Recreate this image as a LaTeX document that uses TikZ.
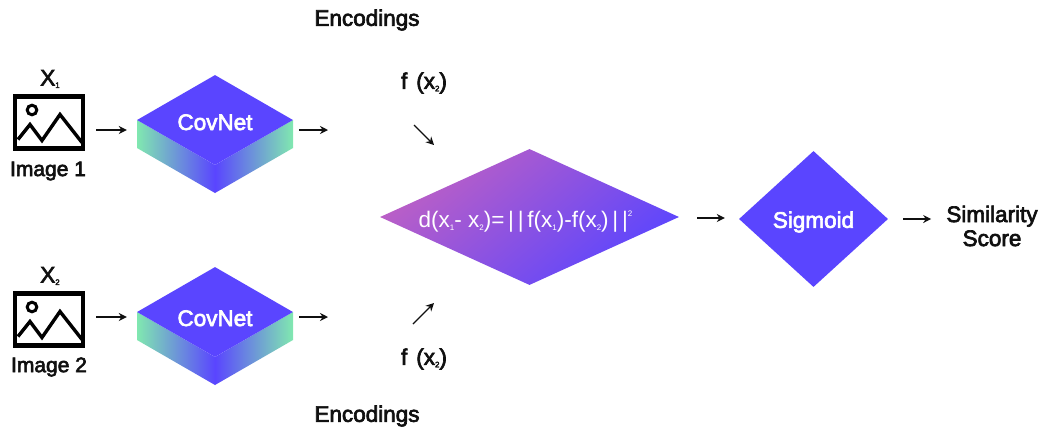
\documentclass[tikz,border=0pt]{standalone}
\usepackage{fontspec}
\setmainfont{Liberation Sans}
\newfontfamily\medfont[FakeBold=3]{Liberation Sans}
\usetikzlibrary{arrows.meta,positioning,shapes.geometric}
\definecolor{netblue}{HTML}{5A45FF}
\definecolor{netgreen}{HTML}{80E8B0}
\definecolor{distpink}{HTML}{BE60C4}
\definecolor{inkblack}{HTML}{101010}
\newcommand{\lowidx}[1]{\raisebox{-2.5pt}{\fontsize{8}{8}\selectfont #1}}
\newcommand{\highidx}[1]{\raisebox{11pt}{\fontsize{8}{8}\selectfont #1}}
\tikzset{
  flow/.style={draw=inkblack,line width=1.3pt,-{Stealth[length=8pt,width=8pt]}},
  lbl/.style={font=\medfont\fontsize{22.5}{24}\selectfont,text=inkblack,inner sep=0pt,align=center},
  lblsmall/.style={font=\medfont\fontsize{21}{24}\selectfont,text=inkblack,inner sep=0pt},
  onblue/.style={font=\medfont\fontsize{22.5}{24}\selectfont,text=white,inner sep=0pt},
  topface/.style={diamond,fill=netblue,shape aspect=1.733,minimum width=156pt,minimum height=90pt,inner sep=0pt},
  imgframe/.style={draw=black,line width=4.4pt,minimum width=68pt,minimum height=52pt,inner sep=0pt},
}
\begin{document}
\begin{tikzpicture}[x=1pt,y=-1pt]
\useasboundingbox (0,0) rectangle (1044,429);
\fill[white] (0,0) rectangle (1044,429);
\newcommand{\covblock}[3]{
  \shade[left color=netgreen,right color=netblue] (137,#1) -- (215,#1+45) -- (215,#1+73) -- (137,#1+28) -- cycle;
  \shade[left color=netblue,right color=netgreen] (293,#1) -- (215,#1+45) -- (215,#1+73) -- (293,#1+28) -- cycle;
  \node[topface,onblue] (#2) at (215,#1) {\raisebox{#3}[0pt][0pt]{CovNet}};
}
\newcommand{\imgicon}[2]{
  \node[imgframe] (#2) at (49,#1) {};
  \draw[black,line width=3pt] (32,#1-12.5) circle (4.8);
  \draw[black,line width=3.4pt,line join=miter] (18,#1+17) -- (30,#1+2) -- (42,#1+18) -- (60,#1-8) -- (82,#1+20);
}
\covblock{120}{covnet1}{-10pt}
\covblock{312}{covnet2}{-14pt}
\imgicon{122.5}{image1}
\imgicon{319.5}{image2}
\node[lbl] (x1) at (50,79) {X\lowidx{1}};
\node[lbl] (x2) at (50,276) {X\lowidx{2}};
\node[lblsmall] (name1) at (48,171) {Image 1};
\node[lblsmall] (name2) at (49,367) {Image 2};
\node[lbl] (enc1) at (367,20) {Encodings};
\node[lbl] (enc2) at (367,416) {Encodings};
\node[lbl] (fx1) at (424,83) {f\hspace{9pt}(x\lowidx{2})};
\node[lbl] (fx2) at (424,359) {f\hspace{9pt}(x\lowidx{2})};
\node[diamond,shape aspect=2.2,minimum width=299pt,minimum height=136pt,inner sep=0pt,shade,shading=axis,left color=distpink,right color=netblue,shading angle=40] (dist) at (529.5,217) {};
\node[font=\fontsize{22.5}{24}\selectfont,text=white,inner sep=0pt] (formula) at (525.5,222) {d(x\lowidx{1}- x\lowidx{2})=\,|\,|\,f(x\lowidx{1})-f(x\lowidx{2})\,|\,|\highidx{2}};
\node[diamond,fill=netblue,minimum width=149pt,minimum height=136pt,shape aspect=1.1,inner sep=0pt] (sigmoid) at (813.5,219) {};
\node[onblue] (sigtext) at (813.5,222) {Sigmoid};
\node[lbl] (score) at (992,226) {Similarity\\Score};
\coordinate (out1) at (328,130);
\coordinate (out2) at (328,317);
\coordinate (fromenc1) at (414,125);
\coordinate (toenc1) at (434,145);
\coordinate (fromenc2) at (413,324);
\coordinate (toenc2) at (434,303);
\draw[flow,shorten <=11pt,shorten >=10pt] ([yshift=-7.5pt]image1.east) -- ([yshift=-10pt]covnet1.west);
\draw[flow,shorten <=11pt,shorten >=10pt] ([yshift=2.5pt]image2.east) -- ([yshift=-5pt]covnet2.west);
\draw[flow,shorten <=6pt] ([yshift=-10pt]covnet1.east) -- (out1);
\draw[flow,shorten <=6pt] ([yshift=-5pt]covnet2.east) -- (out2);
\draw[flow] (fromenc1) -- (toenc1);
\draw[flow] (fromenc2) -- (toenc2);
\draw[flow,shorten <=18pt,shorten >=14pt] ([yshift=-1pt]dist.east) -- ([yshift=1pt]sigmoid.west);
\draw[flow] ([xshift=15pt]sigmoid.east) -- ([xshift=-15pt]sigmoid.east -| score.west);
\end{tikzpicture}
\end{document}
